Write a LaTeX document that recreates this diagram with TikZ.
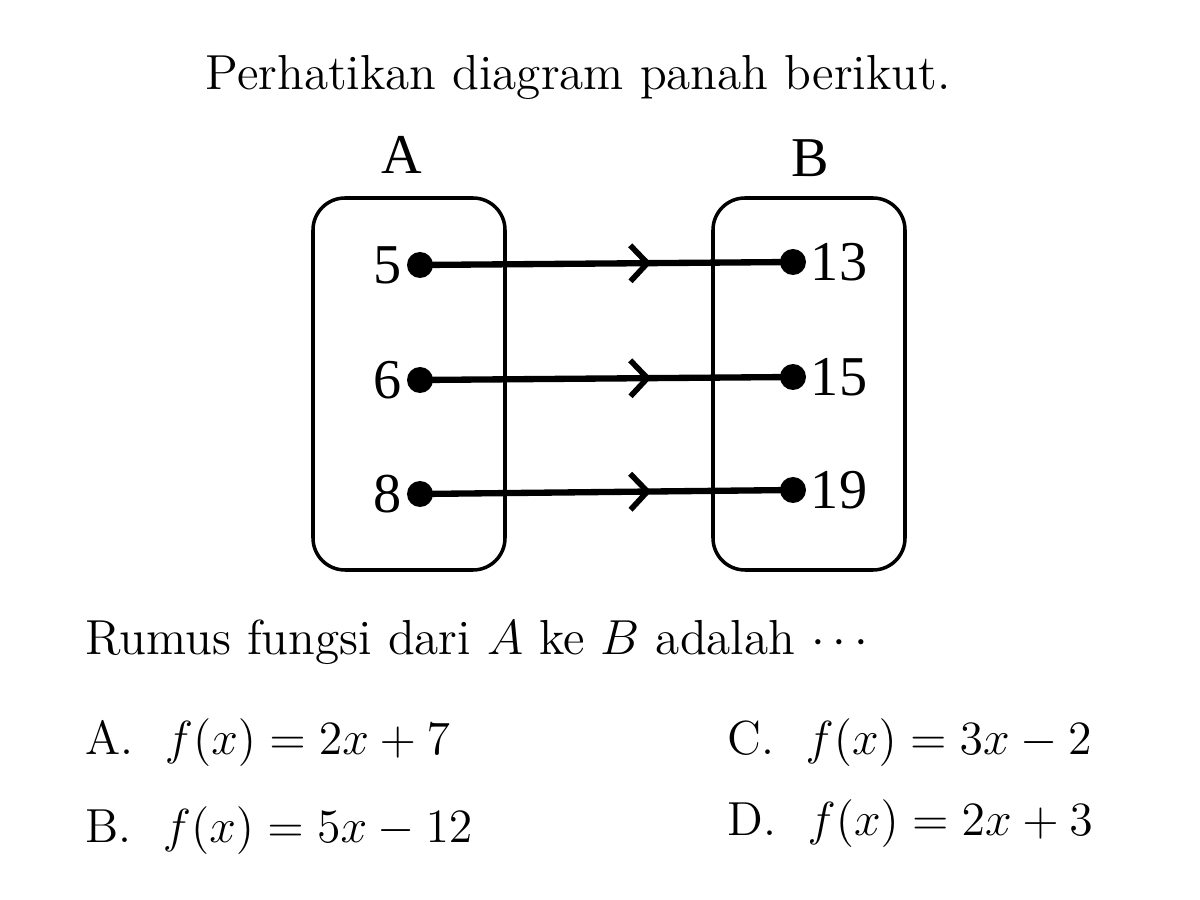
\RequirePackage{fix-cm}
\documentclass[tikz,border=0pt]{standalone}
\usepackage{amsmath, amsfonts}
\usepackage{fontspec}
\usepackage{tikz}
\usetikzlibrary{arrows.meta, decorations.markings, positioning}
\newfontfamily\setfont{Liberation Serif}

\tikzset{
	setbox/.style={draw, line width=1pt, rounded corners=0.32cm, minimum width=1.92cm, minimum height=3.72cm},
	elem/.style={circle, fill=black, inner sep=0pt, minimum size=0.26cm},
	elemlabel/.style={font=\setfont\fontsize{16}{18}\selectfont},
	setname/.style={font=\setfont\fontsize{16}{18}\selectfont},
	mapto/.style={line width=1.8pt, postaction={decorate},
		decoration={markings, mark=at position 0.62 with {\arrow[line width=1.6pt]{Straight Barb[length=1.7mm, width=3.6mm]}}}},
	question/.style={anchor=base west, inner sep=0pt, font=\fontsize{14}{16}\selectfont},
	choice/.style={anchor=base west, inner sep=0pt, font=\fontsize{13.6}{16}\selectfont},
}

\begin{document}
\begin{tikzpicture}
				\useasboundingbox (0,0) rectangle (12,9);
				\node[question] (title) at (2.05,8.10) {Perhatikan diagram panah berikut.};
				\node[setbox] (boxA) at (4.09,5.16) {};
				\node[setbox] (boxB) at (8.09,5.16) {};
				\node[setname] (nameA) at (4.02,7.45) {A};
				\node[setname] (nameB) at (8.10,7.42) {B};
				\node[elem, label={[elemlabel, inner sep=1pt]left:5}] (a5) at (4.20,6.35) {};
				\node[elem, label={[elemlabel, inner sep=1pt]left:6}] (a6) at (4.20,5.20) {};
				\node[elem, label={[elemlabel, inner sep=1pt]left:8}] (a8) at (4.20,4.06) {};
				\node[elem, label={[elemlabel, inner sep=1pt]right:13}] (b13) at (7.93,6.38) {};
				\node[elem, label={[elemlabel, inner sep=1pt]right:15}] (b15) at (7.93,5.23) {};
				\node[elem, label={[elemlabel, inner sep=1pt]right:19}] (b19) at (7.93,4.10) {};
				\draw[mapto] (a5.center) -- (b13.center);
				\draw[mapto] (a6.center) -- (b15.center);
				\draw[mapto] (a8.center) -- (b19.center);
				\node[question] (ask) at (0.85,2.45) {Rumus fungsi dari $A$ ke $B$ adalah $\cdots$};
				\node[choice] (optA) at (0.85,1.45) {A.\ \ $f(x)=2x+7$};
				\node[choice] (optB) at (0.85,0.57) {B.\ \ $f(x)=5x-12$};
				\node[choice] (optC) at (7.27,1.45) {C.\ \ $f(x)=3x-2$};
				\node[choice] (optD) at (7.27,0.65) {D.\ \ $f(x)=2x+3$};
			\end{tikzpicture}
\end{document}
